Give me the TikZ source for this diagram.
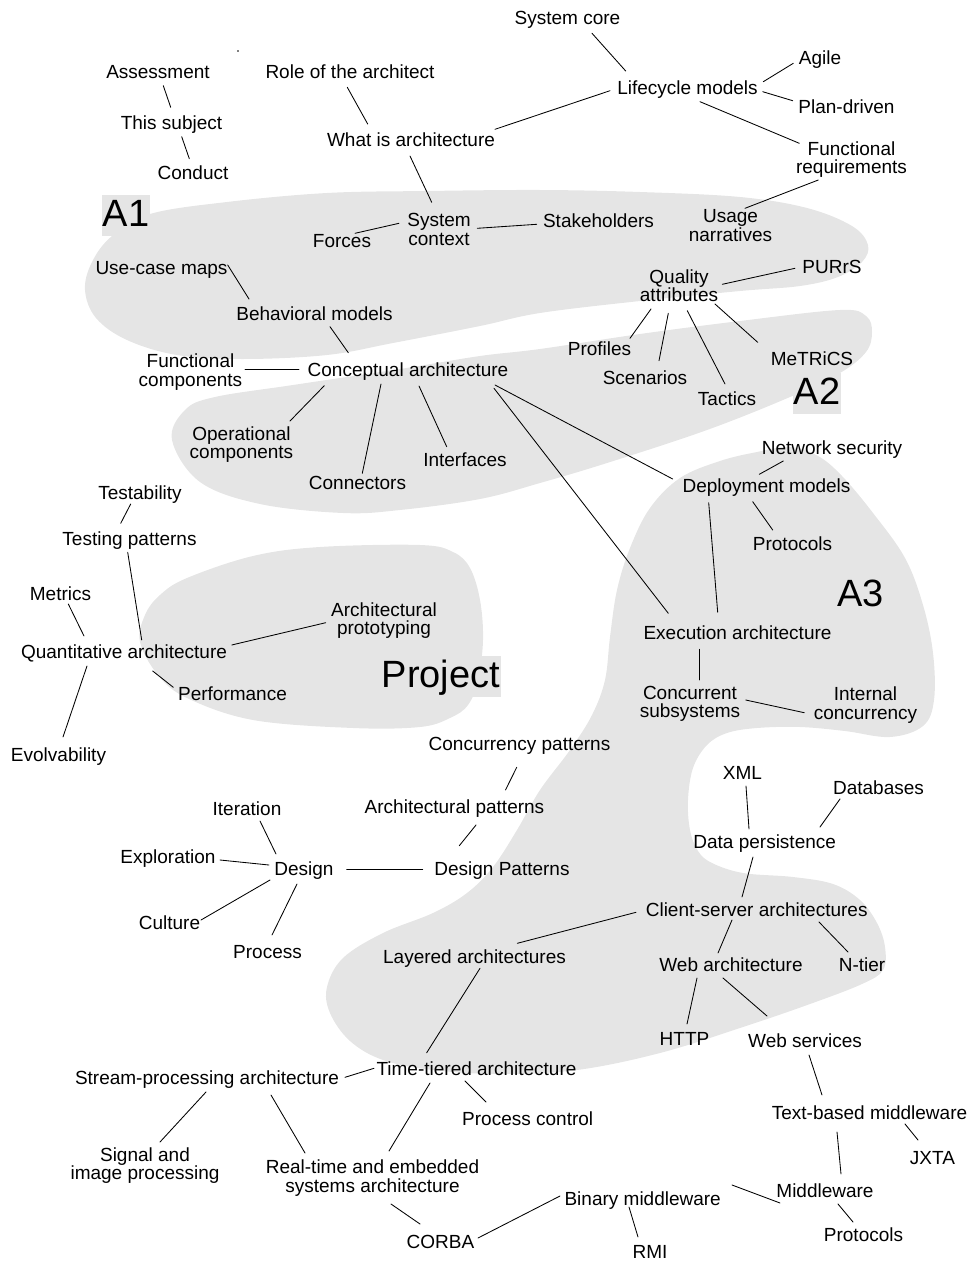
\documentclass[tikz,border=0pt]{standalone}
\usepackage{fontspec}
\setmainfont{Liberation Sans}
\definecolor{blobgray}{RGB}{229,229,229}
\newcommand\lblfont{\fontsize{19}{18.5}\selectfont}
\newcommand\areafont{\fontsize{38}{40}\selectfont}
\newcommand\lnk[6]{\draw[link] ([shift={(#2,#3)}]#1.base) -- ([shift={(#5,#6)}]#4.base);}
\begin{document}
\begin{tikzpicture}[x=1pt,y=-1pt,
  blob/.style={fill=blobgray},
  lbl/.style={inner sep=0pt,anchor=base,font=\lblfont,align=center},
  area/.style={fill=blobgray,font=\areafont,anchor=base,inner xsep=1pt,inner ysep=0pt,text height=31pt,text depth=10pt},
  link/.style={line width=0.85pt,line cap=round},
  dotmark/.style={circle,fill=black,inner sep=0pt,minimum size=1.6pt}]
\useasboundingbox (0,0) rectangle (972,1263);

% ---------- blobs ----------
\fill[blob] plot[smooth cycle,tension=0.6] coordinates {
 (85,290) (92,262) (112,236) (150,214) (227,202) (327,193) (427,191) (540,190)
 (640,192) (740,197) (807,208) (852,226) (868,245) (862,262) (838,277) (800,286)
 (740,291) (640,301) (540,313) (480,326) (393,343) (327,355) (243,359) (177,355)
 (127,340) (96,318)};
\fill[blob] plot[smooth cycle,tension=0.6] coordinates {
 (172,440) (185,410) (215,397) (293,385) (400,369) (480,356) (540,349) (640,334)
 (740,321) (840,310) (866,316) (872,332) (866,352) (840,373) (790,397) (707,430)
 (607,463) (540,483) (480,499) (400,510) (343,513) (260,504) (200,482)};
\fill[blob] plot[smooth cycle,tension=0.6] coordinates {
 (757,452) (790,447) (818,456) (842,476) (873,513) (905,558) (923,605) (933,653)
 (934,700) (923,726) (890,737) (845,731) (800,727) (757,728) (727,733) (707,745)
 (693,768) (688,800) (690,830) (698,851) (712,863) (743,873) (793,877) (833,884)
 (860,900) (877,923) (885,947) (883,970) (862,984) (810,1004) (743,1027) (660,1053)
 (577,1070) (500,1074) (433,1070) (383,1060) (350,1041) (330,1013) (327,987) (343,958)
 (383,933) (433,913) (467,893) (493,867) (517,830) (540,790) (570,750) (592,715)
 (605,680) (610,637) (617,590) (630,548) (650,508) (680,478) (720,461)};
\fill[blob] plot[smooth cycle,tension=0.6] coordinates {
 (140,642) (145,615) (160,595) (187,578) (253,556) (320,547) (420,545) (453,552)
 (470,568) (480,600) (483,640) (478,680) (468,705) (450,718) (420,727) (353,728)
 (253,720) (187,698) (158,675)};

% ---------- area labels ----------
\node[area] (a1) at (126,226) {A1};
\node[area] (a2) at (817,404) {A2};
\node[area] (a3) at (860.5,606.7) {A3};
\node[area] (pj) at (441,687) {Project};
\node[dotmark] (dot) at (238,51) {};

% ---------- topics ----------
\node[lbl] (sc) at (567.5,25) {System core};
\node[lbl] (lm) at (687.5,94) {Lifecycle models};
\node[lbl] (ag) at (820,65) {Agile};
\node[lbl] (pd) at (846.5,113.3) {Plan-driven};
\node[lbl] (fr) at (851.5,173.5) {Functional\\requirements};
\node[lbl] (un) at (730.5,241.2) {Usage\\narratives};
\node[lbl] (ra) at (350,78) {Role of the architect};
\node[lbl] (wa) at (411,146.7) {What is architecture};
\node[lbl] (as) at (158,78.5) {Assessment};
\node[lbl] (ts) at (171.5,129.3) {This subject};
\node[lbl] (co) at (193,179) {Conduct};
\node[lbl] (scx) at (439,245.2) {System\\context};
\node[lbl] (fo) at (342,247.3) {Forces};
\node[lbl] (sh) at (598.5,227.7) {Stakeholders};
\node[lbl] (uc) at (161.5,274) {Use-case maps};
\node[lbl] (bm) at (314.5,320) {Behavioral models};
\node[lbl] (qa) at (679,301.8) {Quality\\attributes};
\node[lbl] (pu) at (832,273.3) {PURrS};
\node[lbl] (fc) at (190.5,386.2) {Functional\\components};
\node[lbl] (ca) at (408,376) {Conceptual architecture};
\node[lbl] (pr) at (599.5,355) {Profiles};
\node[lbl] (scn) at (645,384) {Scenarios};
\node[lbl] (ta) at (727,405) {Tactics};
\node[lbl] (me) at (812,365.7) {MeTRiCS};
\node[lbl] (oc) at (241.5,458.5) {Operational\\components};
\node[lbl] (cn) at (357.5,489) {Connectors};
\node[lbl] (ifc) at (465,466.7) {Interfaces};
\node[lbl] (ns) at (832,454) {Network security};
\node[lbl] (dm) at (766.5,492.7) {Deployment models};
\node[lbl] (pta) at (792.5,550) {Protocols};
\node[lbl] (tb) at (140,499) {Testability};
\node[lbl] (tp) at (129.5,545) {Testing patterns};
\node[lbl] (mt) at (60.5,600) {Metrics};
\node[lbl] (ap) at (384,634.5) {Architectural\\prototyping};
\node[lbl] (qn) at (124,658.3) {Quantitative architecture};
\node[lbl] (ea) at (737.5,639) {Execution architecture};
\node[lbl] (pf) at (232.5,700.7) {Performance};
\node[lbl] (cs) at (690,717.5) {Concurrent\\subsystems};
\node[lbl] (ic) at (865.5,719) {Internal\\concurrency};
\node[lbl] (ev) at (58.5,761.5) {Evolvability};
\node[lbl] (cp) at (519.5,750) {Concurrency patterns};
\node[lbl] (xm) at (742.5,779.3) {XML};
\node[lbl] (db) at (878.5,794) {Databases};
\node[lbl] (it) at (247,815) {Iteration};
\node[lbl] (arp) at (454.5,813.3) {Architectural patterns};
\node[lbl] (dp) at (764.7,848.3) {Data persistence};
\node[lbl] (ex) at (168,863.7) {Exploration};
\node[lbl] (de) at (304,875.5) {Design};
\node[lbl] (dpt) at (502,875) {Design Patterns};
\node[lbl] (csa) at (756.7,916) {Client-server architectures};
\node[lbl] (cu) at (169.5,929.5) {Culture};
\node[lbl] (pc) at (267.5,958) {Process};
\node[lbl] (la) at (474.5,963.3) {Layered architectures};
\node[lbl] (wba) at (731,971) {Web architecture};
\node[lbl] (nt) at (862,971) {N-tier};
\node[lbl] (ht) at (684.5,1045) {HTTP};
\node[lbl] (ws) at (805,1047.3) {Web services};
\node[lbl] (tt) at (476.5,1075) {Time-tiered architecture};
\node[lbl] (sp) at (207,1084.6) {Stream-processing architecture};
\node[lbl] (pcn) at (527.7,1125.8) {Process control};
\node[lbl] (tbm) at (869.5,1119.3) {Text-based middleware};
\node[lbl] (jx) at (932.5,1164.3) {JXTA};
\node[lbl] (si) at (145,1179.5) {Signal and\\image processing};
\node[lbl] (rt) at (372.5,1192.1) {Real-time and embedded\\systems architecture};
\node[lbl] (bi) at (642.7,1205) {Binary middleware};
\node[lbl] (mw) at (825,1197.7) {Middleware};
\node[lbl] (cb) at (440.5,1248) {CORBA};
\node[lbl] (rmi) at (650,1258) {RMI};
\node[lbl] (ptb) at (863.5,1241.7) {Protocols};

% ---------- connectors ----------
\lnk{sc}{24.5}{8.3}{lm}{-61.8}{-23}
\lnk{lm}{-77.5}{-3.3}{wa}{84}{-17.4}
\lnk{lm}{75.8}{-12.3}{ag}{-26.7}{-1.7}
\lnk{lm}{75.2}{-2.3}{pd}{-53.8}{-12.6}
\lnk{lm}{12.5}{7.7}{fr}{-52.2}{-30.2}
\lnk{fr}{-33.2}{6.5}{un}{14.5}{-32.9}
\lnk{ra}{-2.7}{9.3}{wa}{-43.3}{-22.7}
\lnk{wa}{-1}{9.3}{scx}{-7.3}{-42.9}
\lnk{as}{5.3}{7.2}{ts}{-0.8}{-22}
\lnk{ts}{10.2}{7.4}{co}{-3.7}{-20.3}
\lnk{scx}{-40}{-21.9}{fo}{13}{-14}
\lnk{scx}{38.3}{-16.9}{sh}{-61.8}{-3.4}
\lnk{uc}{66.2}{-9}{bm}{-65.5}{-21}
\lnk{bm}{15.5}{6.7}{ca}{-59.7}{-23.3}
\lnk{qa}{43.3}{-17.5}{pu}{-37}{-5}
\lnk{fc}{54.5}{-16.9}{ca}{-109}{-6.7}
\lnk{ca}{-83.7}{9.7}{oc}{48.5}{-37.5}
\lnk{ca}{-27}{8}{cn}{4.8}{-15.7}
\lnk{ca}{11}{10}{ifc}{-18.3}{-20}
\lnk{qa}{-28}{7.2}{pr}{30.5}{-16.7}
\lnk{qa}{-10.7}{11.5}{scn}{14}{-23.3}
\lnk{qa}{8.3}{8.9}{ta}{-2}{-21}
\lnk{qa}{36}{2.2}{me}{-54.3}{-23.4}
\lnk{ca}{87}{9}{dm}{-93.8}{-13.7}
\lnk{ca}{86}{12.3}{ea}{-69.2}{-25.7}
\lnk{ns}{-48.7}{7}{dm}{-7.2}{-18.4}
\lnk{dm}{-13.8}{9}{pta}{-19.8}{-20}
\lnk{dm}{-57.8}{10}{ea}{-19.8}{-26.7}
\lnk{ea}{-38.2}{10.3}{cs}{9.3}{-37.5}
\lnk{cs}{55.7}{-17.5}{ic}{-61.2}{-6.3}
\lnk{tb}{-9.3}{5}{tp}{-8.8}{-21.7}
\lnk{tp}{-1.8}{7.3}{qn}{17.7}{-18.3}
\lnk{mt}{7.8}{4}{qn}{-40}{-22.3}
\lnk{qn}{107.7}{-13.3}{ap}{-58.3}{-11.8}
\lnk{qn}{28.7}{12.7}{pf}{-59.2}{-13.4}
\lnk{qn}{-37}{7.7}{ev}{4.5}{-24.5}
\lnk{cp}{-2.8}{17.3}{arp}{51}{-23.3}
\lnk{arp}{21.5}{11.7}{dpt}{-42.7}{-29.3}
\lnk{de}{42.7}{-6.2}{dpt}{-79.3}{-5.7}
\lnk{it}{13}{6}{de}{-28}{-21.5}
\lnk{ex}{52}{-3.7}{de}{-35}{-10.5}
\lnk{cu}{31.5}{-9.5}{de}{-34}{4.5}
\lnk{de}{-7}{8.5}{pc}{4.5}{-23}
\lnk{xm}{3.5}{6.7}{dp}{-15.7}{-19.3}
\lnk{db}{-38.5}{5}{dp}{55.3}{-21.3}
\lnk{dp}{-11.7}{8.7}{csa}{-14.7}{-19}
\lnk{csa}{-120.7}{-3.7}{la}{42.8}{-20}
\lnk{csa}{-24.7}{4}{wba}{-13}{-18}
\lnk{csa}{62.3}{6}{nt}{-14}{-19}
\lnk{wba}{-34}{7}{ht}{2.5}{-21}
\lnk{wba}{-8}{7}{ws}{-38}{-31.3}
\lnk{ws}{4}{7.7}{tbm}{-47.5}{-24.3}
\lnk{tbm}{35.5}{4.7}{jx}{-14.5}{-24.3}
\lnk{tbm}{-32.5}{12.7}{mw}{16}{-23.7}
\lnk{mw}{-45}{5.3}{bi}{89.3}{-20}
\lnk{mw}{13}{6.3}{ptb}{-10.5}{-19.7}
\lnk{bi}{-13.7}{2}{rmi}{-12}{-21}
\lnk{cb}{37.5}{-10}{bi}{-82.7}{-9}
\lnk{la}{5.5}{5}{tt}{-49.8}{-22.3}
\lnk{tt}{-102.5}{-6.7}{sp}{138}{-7.3}
\lnk{tt}{-11.5}{6}{pcn}{-41.7}{-23.8}
\lnk{tt}{-46.5}{8}{rt}{16.5}{-41.1}
\lnk{sp}{-1}{7.4}{si}{15}{-37.5}
\lnk{sp}{64}{10.4}{rt}{-67.5}{-39.1}
\lnk{rt}{18.5}{11.9}{cb}{-20.5}{-24}
\end{tikzpicture}
\end{document}
